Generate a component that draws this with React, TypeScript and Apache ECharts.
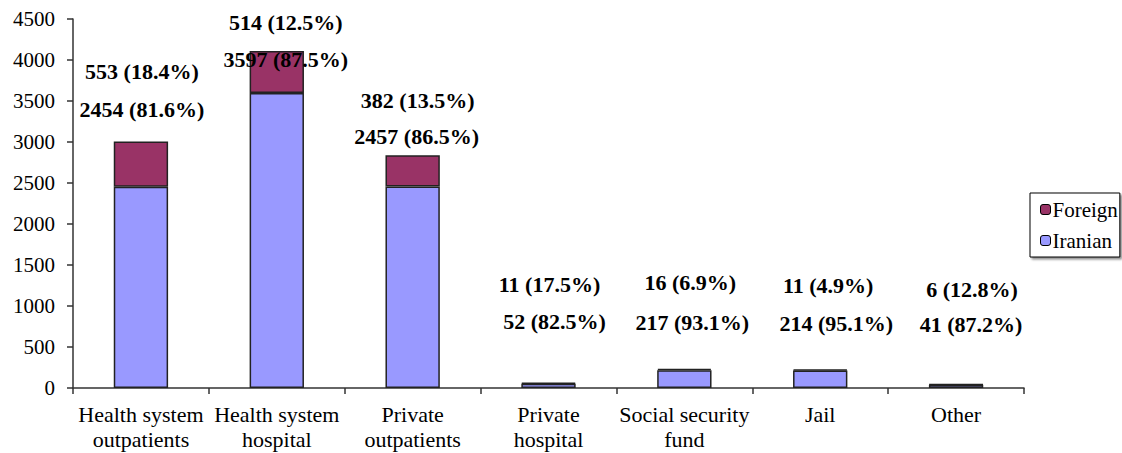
import React, { useEffect, useRef } from "react";
import * as echarts from "echarts";

const categories = [
  "Health system\noutpatients",
  "Health system\nhospital",
  "Private\noutpatients",
  "Private\nhospital",
  "Social security\nfund",
  "Jail",
  "Other",
];
const iranian = [2454, 3597, 2457, 52, 217, 214, 41];
const foreign = [553, 514, 382, 11, 16, 11, 6];
const yTicks = { min: 0, max: 4500, interval: 500 };

// label placement tweaks (style): [dx, dy] per category
const iranianLabelOffset: [number, number][] = [
  [1, -60], [9, -17], [4, -33], [6, -45], [8, -31], [16, -30], [15, -43],
];
const foreignLabelOffset: [number, number][] = [
  [1, -53], [9, -11], [5, -38], [1, -81], [6, -69], [8, -67], [16, -77],
];

const FONT = "Times New Roman, Liberation Serif, Tinos, serif";

function pct(v: number, total: number) {
  return ((v / total) * 100).toFixed(1) + "%";
}

export default function App() {
  const ref = useRef<HTMLDivElement>(null);
  useEffect(() => {
    if (!ref.current) return;
    const chart = echarts.init(ref.current, undefined, { renderer: "svg" });
    const totals = iranian.map((v, i) => v + foreign[i]);
    const labelBase = {
      show: true,
      position: "top" as const,
      fontFamily: FONT,
      fontSize: 22,
      fontWeight: "bold" as const,
      color: "#000",
      lineHeight: 24,
    };
    chart.setOption({
      animation: false,
      backgroundColor: "#fff",
      textStyle: { fontFamily: FONT },
      grid: { left: 73, right: 98, top: 19, bottom: 65, containLabel: false },
      legend: {
        orient: "vertical",
        left: 1030,
        top: 193,
        width: 88,
        padding: [6, 2, 6, 10],
        itemGap: 10,
        itemWidth: 10,
        itemHeight: 10,
        borderColor: "#000",
        borderWidth: 1,
        backgroundColor: "#fff",
        shadowColor: "rgba(0,0,0,0.45)",
        shadowBlur: 2,
        shadowOffsetX: 2,
        shadowOffsetY: 2,
        data: ["Foreign", "Iranian"],
        textStyle: { fontFamily: FONT, fontSize: 21, color: "#000", lineHeight: 20, padding: [0, 0, 0, -3] },
        itemStyle: { borderColor: "#000", borderWidth: 1 },
      },
      xAxis: {
        type: "category",
        data: categories,
        axisLine: { lineStyle: { color: "#333", width: 1.5 } },
        axisTick: { show: true, length: 6, alignWithLabel: false, lineStyle: { color: "#333", width: 1.5 } },
        axisLabel: {
          interval: 0,
          margin: 14,
          fontFamily: FONT,
          fontSize: 22,
          lineHeight: 25,
          color: "#000",
        },
      },
      yAxis: {
        type: "value",
        min: yTicks.min,
        max: yTicks.max,
        interval: yTicks.interval,
        splitLine: { show: false },
        axisLine: { show: true, lineStyle: { color: "#333", width: 1.5 } },
        axisTick: { show: true, length: 6, lineStyle: { color: "#333", width: 1.5 } },
        axisLabel: {
          margin: 18,
          fontFamily: FONT,
          fontSize: 21,
          color: "#000",
          formatter: (v: number) => String(v),
        },
      },
      series: [
        {
          name: "Iranian",
          type: "bar",
          stack: "total",
          barWidth: "40%",
          z: 3,
          itemStyle: { color: "#9999FF", borderColor: "#222", borderWidth: 1.5 },
          data: iranian.map((v, i) => ({
            value: v,
            label: {
              ...labelBase,
              offset: iranianLabelOffset[i],
              formatter: `${v} (${pct(v, totals[i])})`,
            },
          })),
        },
        {
          name: "Foreign",
          type: "bar",
          stack: "total",
          barWidth: "40%",
          z: 2,
          itemStyle: { color: "#993366", borderColor: "#222", borderWidth: 1.5 },
          data: foreign.map((v, i) => ({
            value: v,
            label: {
              ...labelBase,
              offset: foreignLabelOffset[i],
              formatter: `${v} (${pct(v, totals[i])})`,
            },
          })),
        },
      ],
    });
    return () => chart.dispose();
  }, []);
  return (
    <div
      ref={ref}
      style={{ position: "fixed", left: 0, top: 0, width: 1122, height: 453, background: "#fff" }}
    />
  );
}
